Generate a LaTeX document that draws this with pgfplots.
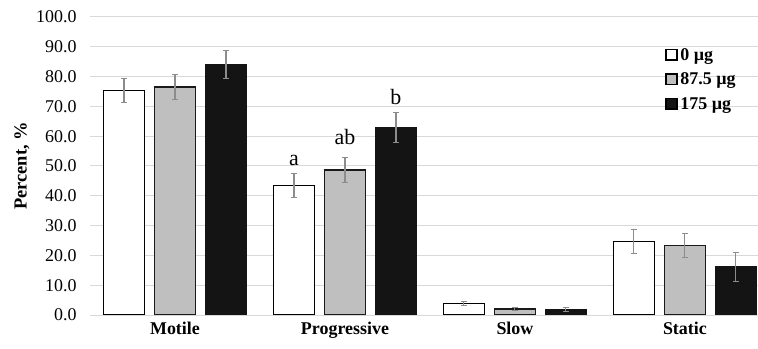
\documentclass[border=0pt]{standalone}
\usepackage{pgfplots}
\pgfplotsset{compat=1.18}
\usepackage{fontspec}
\setmainfont{Liberation Serif}
\definecolor{gridc}{HTML}{D9D9D9}
\definecolor{barg}{HTML}{BFBFBF}
\definecolor{bark}{HTML}{141414}
\definecolor{errc}{HTML}{8C8C8C}
\begin{document}
\begin{tikzpicture}[x=1bp,y=1bp]
\begin{axis}[
  scale only axis,
  width=668bp, height=298bp,
  at={(0,0)}, anchor=south west,
  xmin=-0.5, xmax=3.43,
  ymin=0, ymax=100,
  ytick={0,10,...,100},
  xtick={0,1,2,3},
  xticklabels={Motile,Progressive,Slow,Static},
  x tick label style={font=\fontsize{18}{20}\selectfont\bfseries, yshift=-4bp},
  y tick label style={font=\fontsize{18}{20}\selectfont, xshift=-10bp, /pgf/number format/.cd, fixed, fixed zerofill, precision=1, assume math mode=true},
  ylabel={Percent, \%},
  ylabel style={font=\fontsize{18.5}{20}\selectfont\bfseries, at={(axis description cs:-0.102,0.5)}, anchor=center},
  axis line style={draw=none},
  axis x line*=bottom,
  major tick length=0pt,
  ymajorgrids,
  grid style={gridc, line width=1bp},
  ybar, bar width=0.24,
  clip=true,
  legend style={at={(0.861,0.914)}, anchor=north west, draw=none, fill=none,
    font=\fontsize{18}{20}\selectfont\bfseries,
    inner sep=0pt,
    nodes={inner xsep=2.5bp, inner ysep=0pt, minimum height=24.5bp}},
  legend cell align=left,
  legend image code/.code={\draw[#1, draw=black, line width=1.6bp] (0bp,-5bp) rectangle (11bp,5.5bp);},
  error bars/error bar style={errc, line width=1.1bp},
  error bars/error mark options={rotate=90, mark size=2.6bp, errc, line width=1bp},
]
\addplot[fill=white, draw=black, line width=1.6bp, bar shift=-0.3,
  error bars/.cd, y dir=both, y explicit]
  coordinates {(0,75.3) +- (0,4.1) (1,43.4) +- (0,4.1) (2,3.8) +- (0,0.6) (3,24.7) +- (0,3.9)};
\addplot[fill=barg, draw=black!90, line width=1.6bp, bar shift=0,
  error bars/.cd, y dir=both, y explicit]
  coordinates {(0,76.6) +- (0,4.2) (1,48.7) +- (0,4.2) (2,2.0) +- (0,0.5) (3,23.3) +- (0,4.0)};
\addplot[fill=bark, draw=bark, line width=1.6bp, bar shift=0.3,
  error bars/.cd, y dir=both, y explicit]
  coordinates {(0,84.0) +- (0,4.8) (1,62.9) +- (0,5.0) (2,1.9) +- (0,0.7) (3,16.2) +- (0,4.8)};
\legend{0 µg, 87.5 µg, 175 µg}
\node[font=\fontsize{22}{24}\selectfont] at (axis cs:0.7,51.8) {a};
\node[font=\fontsize{22}{24}\selectfont] at (axis cs:1.0,59.8) {ab};
\node[font=\fontsize{22}{24}\selectfont] at (axis cs:1.3,73.2) {b};
\end{axis}
\pgfresetboundingbox
\path (-90bp,-34bp) rectangle (668bp,315bp);
\end{tikzpicture}
\end{document}
